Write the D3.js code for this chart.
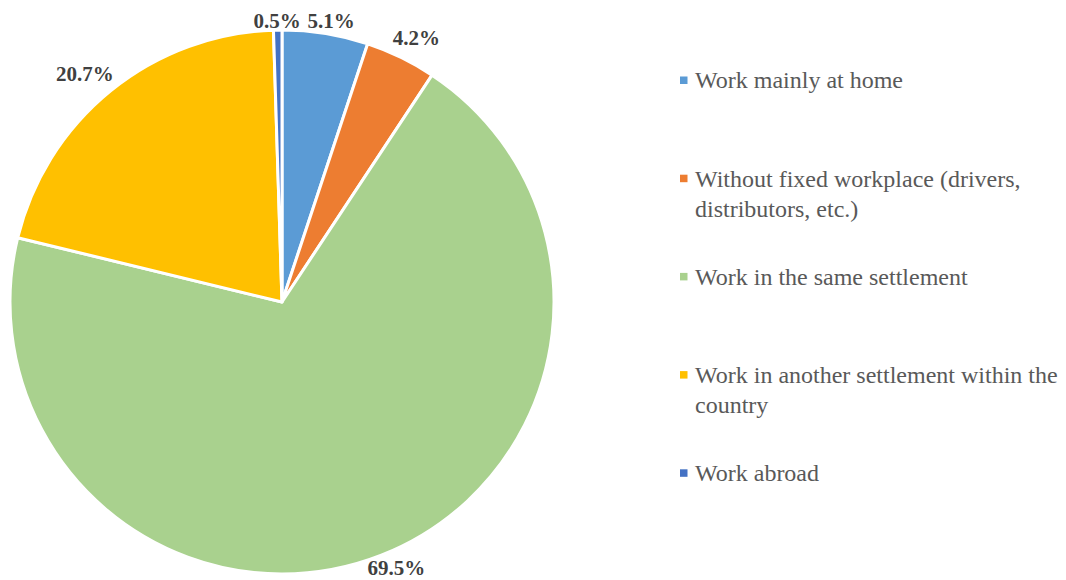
<!DOCTYPE html>
<html>
<head>
<meta charset="utf-8">
<script src="https://cdn.jsdelivr.net/npm/d3@7"></script>
<style>
  body { margin: 0; background: #fff; }
  text { font-family: "Liberation Serif", "Times New Roman", serif; }
</style>
</head>
<body>
<div id="chart"></div>
<script>
// Workplace distribution pie
var categories = ["Work mainly at home", "Without fixed workplace (drivers, distributors, etc.)",
                  "Work in the same settlement", "Work in another settlement within the country", "Work abroad"];
var values = [5.1, 4.2, 69.5, 20.7, 0.5];
var colors = ["#5B9BD5", "#ED7D31", "#A9D18E", "#FFC000", "#4472C4"];

var width = 1066, height = 580;
var cx = 282, cy = 302, radius = 272;

var svg = d3.select("#chart").append("svg")
    .attr("width", width)
    .attr("height", height);

var pie = d3.pie()
    .sort(null)
    .value(function(d) { return d; });

var arc = d3.arc()
    .innerRadius(0)
    .outerRadius(radius);

var arcs = pie(values);

var g = svg.append("g")
    .attr("transform", "translate(" + cx + "," + cy + ")");

g.selectAll("path")
    .data(arcs)
  .enter().append("path")
    .attr("d", arc)
    .attr("fill", function(d, i) { return colors[i]; })
    .attr("stroke", "#fff")
    .attr("stroke-width", 3)
    .attr("stroke-linejoin", "round");

// outside-end labels: push the text box beyond the rim, keep it inside the svg
var labels = g.selectAll("text.lbl")
    .data(arcs)
  .enter().append("text")
    .attr("class", "lbl")
    .style("font-size", "21px")
    .style("font-weight", "bold")
    .style("fill", "#404040")
    .attr("text-anchor", "middle")
    .attr("dy", "0.35em")
    .text(function(d) { return d.data.toFixed(1) + "%"; });

labels.each(function(d) {
  var w = this.getComputedTextLength(), h = 19;
  var a = (d.startAngle + d.endAngle) / 2;
  var s = Math.sin(a), c = Math.cos(a);
  var r = radius + 12;
  var x = r * s + s * w / 2;
  var y = -r * c - c * h / 2;
  y = Math.max(y, 21 - cy);
  y = Math.min(y, height - 12 - cy);
  d3.select(this).attr("x", x).attr("y", y);
});

// legend
var legendX = 680, legendY = 80, legendStep = 98.2, lineH = 30, maxW = 370;

var legend = svg.selectAll("g.legend")
    .data(categories)
  .enter().append("g")
    .attr("class", "legend")
    .attr("transform", function(d, i) { return "translate(" + legendX + "," + (legendY + i * legendStep) + ")"; });

legend.append("rect")
    .attr("x", 0)
    .attr("y", -3.5)
    .attr("width", 7.5)
    .attr("height", 7.5)
    .attr("fill", function(d, i) { return colors[i]; });

legend.each(function(d) {
  var t = d3.select(this).append("text")
      .style("font-size", "24px")
      .style("fill", "#595959");
  var words = d.split(" "), line = [], n = 0;
  var tspan = t.append("tspan").attr("x", 15).attr("y", 0).attr("dy", "0.35em");
  words.forEach(function(wd) {
    line.push(wd);
    tspan.text(line.join(" "));
    if (tspan.node().getComputedTextLength() > maxW && line.length > 1) {
      line.pop();
      tspan.text(line.join(" "));
      line = [wd];
      n++;
      tspan = t.append("tspan").attr("x", 15).attr("y", n * lineH).attr("dy", "0.35em").text(wd);
    }
  });
});
</script>
</body>
</html>
